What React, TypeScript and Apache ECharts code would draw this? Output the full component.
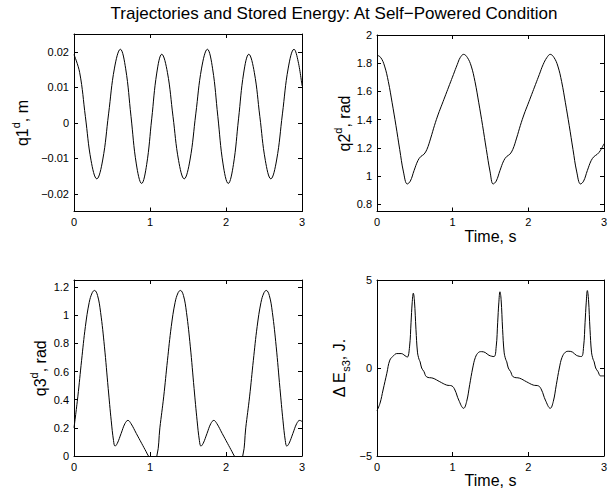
import React, { useEffect, useRef } from 'react';
import * as echarts from 'echarts';

const TITLE = 'Trajectories and Stored Energy: At Self−Powered Condition';
const X_TICKS = [0, 1, 2, 3];

const Q1_T = [0, 0.075, 0.15, 0.225, 0.30, 0.3775, 0.455, 0.5325, 0.61, 0.68, 0.75, 0.82, 0.89, 0.956, 1.0225, 1.089, 1.155, 1.229, 1.3025, 1.376, 1.45, 1.526, 1.6025, 1.679, 1.755, 1.824, 1.8925, 1.961, 2.03, 2.0975, 2.165, 2.2325, 2.30, 2.3725, 2.445, 2.5175, 2.59, 2.666, 2.7425, 2.819, 2.895, 2.95, 3.0];
const Q1_V = [0.0192, 0.0141, 0.0017, -0.0107, -0.0158, -0.0105, 0.0025, 0.0154, 0.0207, 0.0152, 0.0018, -0.0116, -0.0171, -0.0118, 0.0011, 0.0140, 0.0193, 0.0142, 0.0018, -0.0106, -0.0158, -0.0105, 0.0025, 0.0154, 0.0207, 0.0152, 0.0018, -0.0116, -0.0171, -0.0118, 0.0011, 0.0140, 0.0193, 0.0142, 0.0018, -0.0106, -0.0158, -0.0105, 0.0025, 0.0154, 0.0207, 0.0172, 0.0104];
const Q1_TICKS = [-0.02, -0.01, 0, 0.01, 0.02];

const Q2_T = [0, 0.05, 0.10, 0.15, 0.20, 0.25, 0.30, 0.35, 0.40, 0.44, 0.49, 0.54, 0.58, 0.62, 0.66, 0.71, 0.76, 0.81, 0.86, 0.91, 0.96, 1.01, 1.06, 1.10, 1.145, 1.195, 1.245, 1.295, 1.345, 1.395, 1.445, 1.495, 1.535, 1.575, 1.625, 1.675, 1.715, 1.755, 1.795, 1.845, 1.895, 1.945, 1.995, 2.045, 2.095, 2.145, 2.195, 2.245, 2.29, 2.34, 2.39, 2.44, 2.49, 2.54, 2.59, 2.64, 2.69, 2.73, 2.78, 2.83, 2.87, 2.91, 2.95, 3.0];
const Q2_V = [1.858, 1.84, 1.78, 1.67, 1.52, 1.36, 1.19, 1.03, 0.945, 0.965, 1.04, 1.11, 1.14, 1.155, 1.19, 1.27, 1.36, 1.44, 1.51, 1.58, 1.65, 1.72, 1.79, 1.84, 1.863, 1.84, 1.78, 1.67, 1.52, 1.36, 1.19, 1.03, 0.945, 0.965, 1.04, 1.11, 1.14, 1.155, 1.19, 1.27, 1.36, 1.44, 1.51, 1.58, 1.65, 1.72, 1.79, 1.84, 1.863, 1.84, 1.78, 1.67, 1.52, 1.36, 1.19, 1.03, 0.945, 0.965, 1.04, 1.11, 1.14, 1.155, 1.18, 1.23];
const Q2_TICKS = [0.8, 1, 1.2, 1.4, 1.6, 1.8, 2];

const Q3_T = [0, 0.05, 0.10, 0.15, 0.20, 0.24, 0.27, 0.31, 0.35, 0.40, 0.45, 0.49, 0.52, 0.54, 0.57, 0.62, 0.67, 0.71, 0.75, 0.82, 0.89, 0.95, 0.98, 1.03, 1.09, 1.13, 1.18, 1.23, 1.28, 1.33, 1.37, 1.40, 1.44, 1.48, 1.53, 1.58, 1.62, 1.65, 1.67, 1.70, 1.75, 1.80, 1.84, 1.88, 1.95, 2.02, 2.08, 2.11, 2.16, 2.22, 2.26, 2.31, 2.36, 2.41, 2.46, 2.50, 2.53, 2.57, 2.61, 2.66, 2.71, 2.75, 2.78, 2.80, 2.83, 2.88, 2.93, 2.97, 3.0];
const Q3_V = [0.20, 0.42, 0.68, 0.92, 1.09, 1.16, 1.176, 1.14, 1.02, 0.78, 0.48, 0.25, 0.11, 0.07, 0.09, 0.16, 0.23, 0.253, 0.23, 0.16, 0.09, 0.03, 0.0, -0.03, 0.0, 0.20, 0.42, 0.68, 0.92, 1.09, 1.16, 1.176, 1.14, 1.02, 0.78, 0.48, 0.25, 0.11, 0.07, 0.09, 0.16, 0.23, 0.253, 0.23, 0.16, 0.09, 0.03, 0.0, -0.03, 0.0, 0.20, 0.42, 0.68, 0.92, 1.09, 1.16, 1.176, 1.14, 1.02, 0.78, 0.48, 0.25, 0.11, 0.07, 0.09, 0.16, 0.23, 0.253, 0.245];
const Q3_TICKS = [0, 0.2, 0.4, 0.6, 0.8, 1, 1.2];

const DE_T = [0, 0.04, 0.08, 0.13, 0.17, 0.22, 0.26, 0.32, 0.37, 0.40, 0.43, 0.45, 0.465, 0.48, 0.495, 0.515, 0.535, 0.555, 0.57, 0.59, 0.62, 0.655, 0.74, 0.83, 0.92, 0.99, 1.03, 1.08, 1.145, 1.185, 1.225, 1.265, 1.30, 1.34, 1.38, 1.43, 1.48, 1.545, 1.575, 1.595, 1.61, 1.625, 1.64, 1.66, 1.68, 1.70, 1.715, 1.735, 1.765, 1.80, 1.885, 1.975, 2.065, 2.135, 2.175, 2.225, 2.29, 2.33, 2.37, 2.41, 2.445, 2.49, 2.535, 2.585, 2.635, 2.70, 2.73, 2.75, 2.765, 2.78, 2.795, 2.815, 2.835, 2.855, 2.87, 2.89, 2.92, 2.955, 3.0];
const DE_V = [-2.42, -2.0, -1.25, -0.3, 0.45, 0.70, 0.82, 0.82, 0.70, 0.62, 1.2, 2.6, 3.7, 4.25, 3.8, 2.2, 0.9, 0.5, 0.35, 0.0, -0.2, -0.5, -0.58, -0.78, -0.97, -1.02, -1.25, -1.82, -2.29, -1.9, -0.95, 0.0, 0.6, 0.88, 0.93, 0.88, 0.72, 0.65, 1.2, 2.6, 3.7, 4.33, 3.9, 2.2, 0.9, 0.5, 0.35, 0.0, -0.2, -0.5, -0.58, -0.78, -0.97, -1.02, -1.25, -1.82, -2.29, -1.9, -0.95, 0.0, 0.6, 0.9, 0.95, 0.9, 0.72, 0.65, 1.2, 2.6, 3.7, 4.4, 3.9, 2.2, 0.9, 0.5, 0.35, 0.0, -0.2, -0.45, -0.45];
const DE_TICKS = [-5, 0, 5];

const FONT = '"Liberation Sans", Arial, Helvetica, sans-serif';

const zip = (t: number[], v: number[]) => t.map((x, i) => [x, v[i]]);
const fmt = (v: number) => {
  const s = String(Math.round(v * 1000) / 1000);
  return s.replace('-', '−');
};

const lineBlack = { color: '#000', width: 1 };

function xAxes(grid: number, name: string, nameGap: number) {
  const base = {
    type: 'value',
    gridIndex: grid,
    min: 0,
    max: 3,
    interval: 1,
    splitLine: { show: false },
    axisLine: { show: true, onZero: false, lineStyle: lineBlack },
    axisTick: { show: true, inside: true, length: 4, lineStyle: lineBlack, customValues: X_TICKS },
  };
  return [
    {
      ...base,
      position: 'bottom',
      axisLabel: { color: '#000', fontSize: 11, fontFamily: FONT, margin: 5, customValues: X_TICKS, formatter: fmt },
      name,
      nameLocation: 'middle',
      nameGap,
      nameTextStyle: { color: '#000', fontSize: 16, fontFamily: FONT, verticalAlign: 'top' },
    },
    { ...base, position: 'top', axisLabel: { show: false } },
  ];
}

const RICH = {
  a: { fontSize: 16, fontFamily: FONT, color: '#000', lineHeight: 16, verticalAlign: 'bottom' },
  b: { fontSize: 16, fontFamily: FONT, color: '#000', lineHeight: 16, verticalAlign: 'top' },
  h: { fontSize: 2, fontFamily: FONT, color: '#000', lineHeight: 20, verticalAlign: 'middle' },
  sup: { fontSize: 11, fontFamily: FONT, color: '#000', lineHeight: 11, verticalAlign: 'top' },
  sub: { fontSize: 11, fontFamily: FONT, color: '#000', lineHeight: 11, verticalAlign: 'bottom' },
};

function yAxes(grid: number, min: number, max: number, ticks: number[], name: string, nameGap: number) {
  const base = {
    type: 'value',
    gridIndex: grid,
    min,
    max,
    splitLine: { show: false },
    axisLine: { show: true, onZero: false, lineStyle: lineBlack },
    axisTick: { show: true, inside: true, length: 4, lineStyle: lineBlack, customValues: ticks },
  };
  return [
    {
      ...base,
      position: 'left',
      axisLabel: { color: '#000', fontSize: 11, fontFamily: FONT, margin: 5, customValues: ticks, formatter: fmt },
      name,
      nameLocation: 'middle',
      nameGap,
      nameTextStyle: { color: '#000', fontSize: 16, fontFamily: FONT, rich: RICH },
    },
    { ...base, position: 'right', axisLabel: { show: false } },
  ];
}

export default function App() {
  const ref = useRef<HTMLDivElement>(null);
  useEffect(() => {
    if (!ref.current) return;
    const chart = echarts.init(ref.current, undefined, { renderer: 'svg' });
    const grids = [
      { left: 74, top: 34, width: 228, height: 177.5 },
      { left: 377, top: 35, width: 227, height: 176.5 },
      { left: 74, top: 280, width: 228, height: 176 },
      { left: 377, top: 280, width: 227, height: 176 },
    ];
    const series = [
      zip(Q1_T, Q1_V),
      zip(Q2_T, Q2_V),
      zip(Q3_T, Q3_V),
      zip(DE_T, DE_V),
    ].map((data, g) => ({
      type: 'line',
      xAxisIndex: 2 * g,
      yAxisIndex: 2 * g,
      data,
      smooth: 0.4,
      showSymbol: false,
      symbol: 'none',
      clip: true,
      lineStyle: { color: '#000', width: 1 },
    }));
    chart.setOption({
      animation: false,
      backgroundColor: '#fff',
      graphic: [
        {
          type: 'text',
          x: 334,
          y: 13,
          style: { text: TITLE, fill: '#000', font: `17px ${FONT}`, textAlign: 'center', textVerticalAlign: 'middle' },
        },
      ],
      grid: grids.map((g) => ({ ...g, containLabel: false })),
      xAxis: [...xAxes(0, '', 15), ...xAxes(1, 'Time, s', 10), ...xAxes(2, '', 15), ...xAxes(3, 'Time, s', 14)],
      yAxis: [
        ...yAxes(0, -0.025, 0.025, Q1_TICKS, '{a|q1}{sup|d}{a|, m}{h| }', 44),
        ...yAxes(1, 0.75, 2, Q2_TICKS, '{a|q2}{sup|d}{a|, rad}{h| }', 20),
        ...yAxes(2, 0, 1.25, Q3_TICKS, '{a|q3}{sup|d}{a|, rad}{h| }', 26),
        ...yAxes(3, -5, 5, DE_TICKS, '{b|Δ E}{sub|s3}{b|, J.}{h| }', 26),
      ],
      series,
    });
    return () => chart.dispose();
  }, []);
  return (
    <div
      ref={ref}
      style={{ position: 'fixed', left: 0, top: 0, width: 613, height: 490, background: '#fff' }}
    />
  );
}
